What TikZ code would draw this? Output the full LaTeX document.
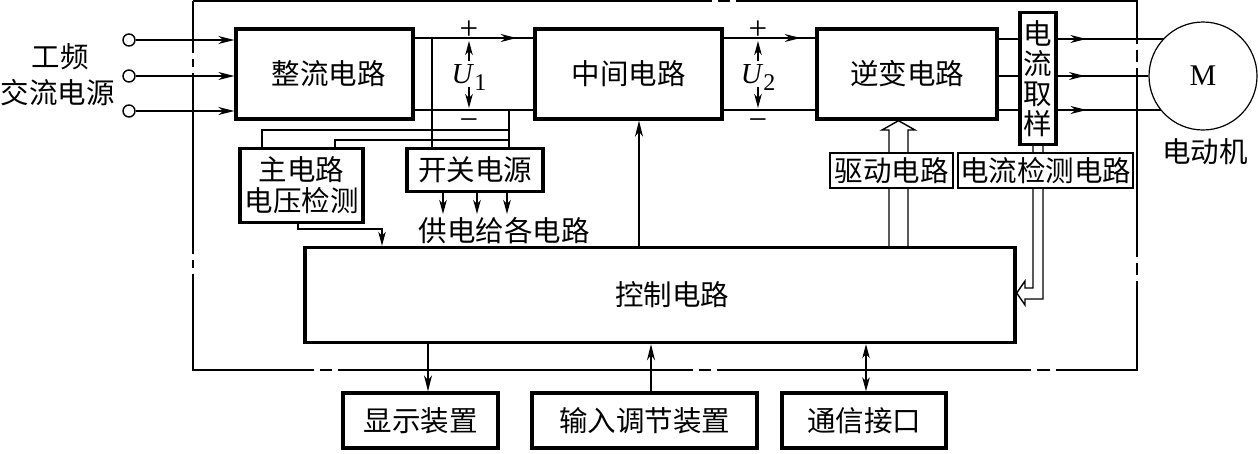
\documentclass[tikz,border=0pt]{standalone}
\usepackage{fontspec}
\newfontfamily\cjk{Noto Sans CJK SC}
\newfontfamily\tms{Liberation Serif}
\usetikzlibrary{arrows.meta,decorations.markings}
\begin{document}
\begin{tikzpicture}[x=1pt,y=-1pt,
  txt/.style={font=\cjk\fontsize{28.5}{31}\selectfont, inner sep=0pt},
  tbox/.style={txt, draw, line width=3.4pt, fill=white},
  lbox/.style={txt, draw, line width=1.2pt, fill=white},
  wire/.style={line width=1.4pt},
  frameline/.style={line width=1.4pt},
  arr/.style={wire, -{Stealth[length=16pt,width=8pt,inset=5pt]}},
  sarr/.style={wire, -{Stealth[length=14pt,width=7.5pt,inset=4pt]}},
  darr/.style={wire, {Stealth[length=14pt,width=7.5pt,inset=4pt]}-{Stealth[length=14pt,width=7.5pt,inset=4pt]}},
  midarrow/.style={wire, postaction={decorate}, decoration={markings, mark=at position #1 with {\arrow{Stealth[length=16pt,width=8pt,inset=5pt]}}}},
  term/.style={draw, circle, line width=1.4pt, minimum size=12pt, inner sep=0pt, fill=white},
  sym/.style={font=\tms\fontsize{33}{33}\selectfont, inner sep=0pt}
]
\useasboundingbox (0,0) rectangle (1258,453);
% outer chain-line frame
\draw[frameline]
  (193,1) -- (193,53) (193,59) -- (193,67) (193,73) -- (193,254) (193,260) -- (193,268) (193,274) -- (193,370)
  -- (314,370) (320,370) -- (332,370) (338,370) -- (693,370) (699,370) -- (711,370) (717,370) -- (1031,370)
  (1037,370) -- (1050,370) (1056,370) -- (1137,370) -- (1137,281) (1137,275) -- (1137,263) (1137,257) -- (1137,68)
  (1137,62) -- (1137,50) (1137,44) -- (1137,1) -- (736,1) (730,1) -- (718,1) (712,1) -- (193,1);

% main blocks
\node[tbox, minimum width=177pt, minimum height=90pt] (rect) at (324.5,74) {\hspace*{8pt}整流电路};
\node[tbox, minimum width=187pt, minimum height=90pt] (mid) at (628.5,74) {中间电路};
\node[tbox, minimum width=180pt, minimum height=90pt] (inv) at (907,74) {逆变电路};
\node[tbox, minimum width=710pt, minimum height=95pt] (ctrl) at (660,295) {\hspace*{24pt}控制电路};
\node[tbox, minimum width=123pt, minimum height=74pt, align=center] (vdet) at (301.5,185.5) {主电路\\电压检测};
\node[tbox, minimum width=136pt, minimum height=43pt] (smps) at (475,170) {开关电源};
\node[tbox, minimum width=155pt, minimum height=55pt] (disp) at (420.5,420.5) {显示装置};
\node[tbox, minimum width=225pt, minimum height=55pt] (inp) at (644.5,420.5) {输入调节装置};
\node[tbox, minimum width=164pt, minimum height=55pt] (comm) at (864,420.5) {通信接口};
\node[draw, circle, line width=1.2pt, minimum size=108pt, inner sep=0pt, font=\tms\fontsize{30}{30}\selectfont] (motor) at (1203,76) {M};

% input terminals
\node[term] (t1) at (129,40) {};
\node[term] (t2) at (129,76) {};
\node[term] (t3) at (129,111) {};
\node[txt] (lab1) at (60,57) {工频};
\node[txt] (lab2) at (58,93) {交流电源};
\draw[arr] (t1) -- (t1 -| rect.west);
\draw[arr] (t2) -- (t2 -| rect.west);
\draw[arr] (t3) -- (t3 -| rect.west);

% DC link 1
\coordinate (yt) at (0,38);
\coordinate (yb) at (0,110);
\draw[midarrow=0.86] (rect.east |- yt) -- (mid.west |- yt);
\draw[wire] (rect.east |- yb) -- (mid.west |- yb);
\node[sym] (p1) at (469,30) {+};
\node[sym] (m1) at (469,125) {−};
\node[anchor=base, inner sep=0pt] (u1) at (469,83) {\tms\fontsize{29}{29}\selectfont\itshape U\/\raisebox{-7pt}{\upshape\fontsize{24}{24}\selectfont 1}};
\coordinate (u1a) at (469,61); \coordinate (u1b) at (469,41);
\coordinate (u1c) at (469,87); \coordinate (u1d) at (469,108);
\draw[sarr] (u1a) -- (u1b);
\draw[sarr] (u1c) -- (u1d);

% DC link 2
\draw[midarrow=0.84] (mid.east |- yt) -- (inv.west |- yt);
\draw[wire] (mid.east |- yb) -- (inv.west |- yb);
\node[sym] (p2) at (758,30) {+};
\node[sym] (m2) at (758,125) {−};
\node[anchor=base, inner sep=0pt] (u2) at (758,83) {\tms\fontsize{29}{29}\selectfont\itshape U\/\raisebox{-7pt}{\upshape\fontsize{24}{24}\selectfont 2}};
\coordinate (u2a) at (758,61); \coordinate (u2b) at (758,41);
\coordinate (u2c) at (758,87); \coordinate (u2d) at (758,108);
\draw[sarr] (u2a) -- (u2b);
\draw[sarr] (u2c) -- (u2d);

% taps to voltage detection and switching supply
\coordinate (j1) at (432,38);
\coordinate (j2) at (509,110);
\coordinate (a1) at (262,130);
\coordinate (a2) at (335,140);
\draw[wire] (j1) -- (j1 |- smps.north);
\draw[wire] (j2) -- (j2 |- smps.north);
\draw[wire] (a1 |- vdet.north) -- (a1) -- (a1 -| j2);
\draw[wire] (a2 |- vdet.north) -- (a2) -- (a2 -| j2);

% switching supply outputs
\coordinate (s1) at (443,214); \coordinate (s2) at (477,214); \coordinate (s3) at (507,214);
\draw[sarr] (smps.south -| s1) -- (s1);
\draw[sarr] (smps.south -| s2) -- (s2);
\draw[sarr] (smps.south -| s3) -- (s3);
\node[txt] (feed) at (504,231) {供电给各电路};

% voltage detection to control
\coordinate (vd1) at (298,229);
\coordinate (vd2) at (382,229);
\draw[sarr] (vdet.south -| vd1) -- (vd1) -- (vd2) -- (vd2 |- ctrl.north);

% control to intermediate
\coordinate (cm) at (639,0);
\draw[arr] (ctrl.north -| cm) -- (mid.south -| cm);

% inverter outputs via current sampling to motor
\node[tbox, minimum width=36pt, minimum height=132pt, align=center, font=\cjk\fontsize{28.5}{30}\selectfont] (samp) at (1038,78.5) {电\\流\\取\\样};
\coordinate (y1) at (0,39); \coordinate (y2) at (0,76); \coordinate (y3) at (0,110);
\draw[wire] (inv.east |- y1) -- (samp.west |- y1);
\draw[wire] (inv.east |- y2) -- (samp.west |- y2);
\draw[wire] (inv.east |- y3) -- (samp.west |- y3);
\draw[midarrow=0.27] (samp.east |- y1) -- (motor.136.8 |- y1);
\draw[midarrow=0.3] (samp.east |- y2) -- (motor.west);
\draw[midarrow=0.28] (samp.east |- y3) -- (motor.219 |- y3);
\node[txt] (mlab) at (1205,152) {电动机};

% drive: hollow double-line arrow from control to inverter
\coordinate (d1) at (889,0); \coordinate (d2) at (908,0); \coordinate (dt) at (898.5,0);
\draw[wire, line join=miter] (ctrl.north -| d1) -- (889,130) -- (882,130) -- (inv.south -| dt) -- (915,130) -- (908,130) -- (ctrl.north -| d2);
\node[lbox, minimum width=123pt, minimum height=35pt] (drv) at (891.5,170.5) {驱动电路};

% current detection: hollow double-line arrow from sampling to control
\coordinate (c1) at (1033,0); \coordinate (c2) at (1043,0); \coordinate (ct) at (0,293);
\draw[wire, line join=miter] (samp.south -| c1) -- (1033,288) -- (1025,288) -- (1025,281) -- (ctrl.east |- ct) -- (1025,305) -- (1025,299) -- (1043,299) -- (samp.south -| c2);
\node[lbox, minimum width=175pt, minimum height=35pt] (cdet) at (1045.5,170.5) {电流检测电路};

% control to peripherals
\coordinate (xd) at (428,0); \coordinate (xi) at (651,0); \coordinate (xc) at (866,0);
\draw[arr] (ctrl.south -| xd) -- (disp.north -| xd);
\draw[arr] (inp.north -| xi) -- (ctrl.south -| xi);
\draw[darr] (ctrl.south -| xc) -- (comm.north -| xc);
\end{tikzpicture}
\end{document}
